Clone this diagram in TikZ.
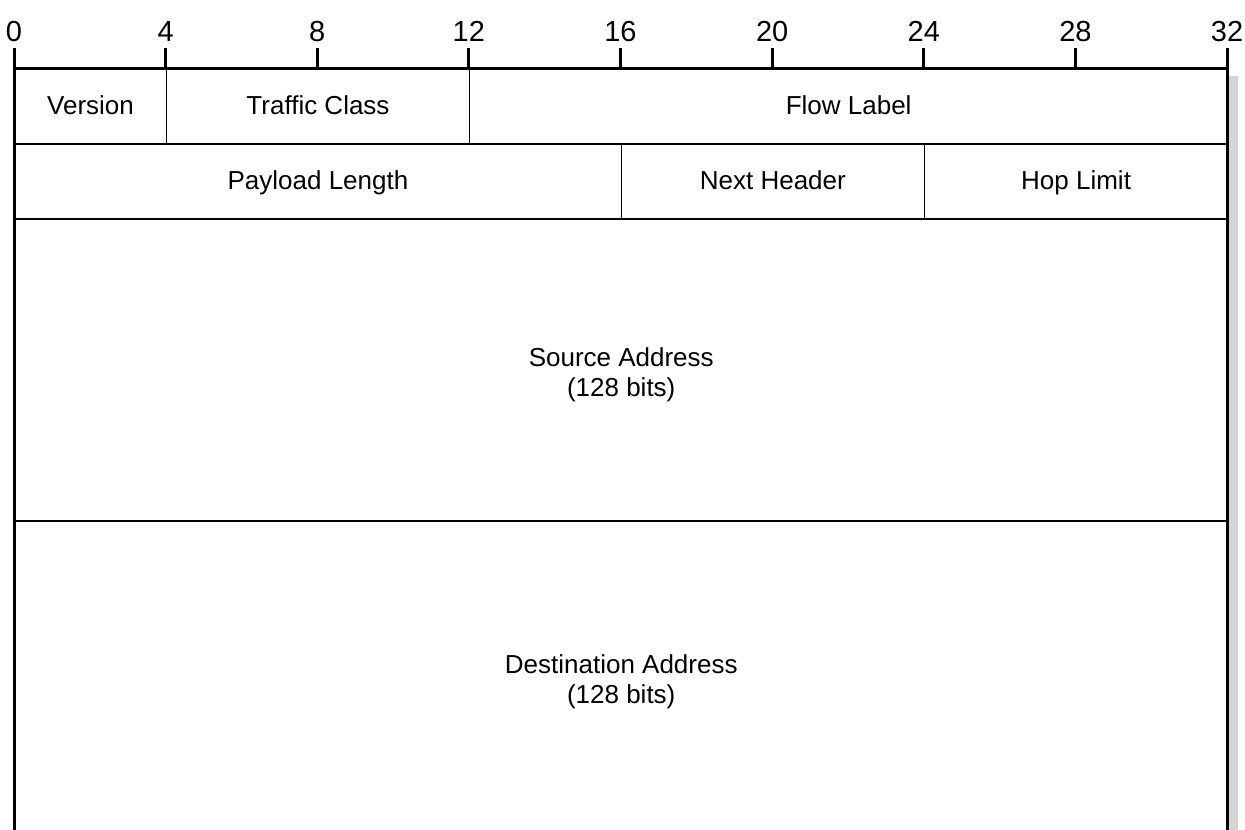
\documentclass[tikz,border=0pt]{standalone}
\usepackage{fontspec}
\setmainfont{Liberation Sans}
\definecolor{shadowgray}{HTML}{D4D4D4}
\begin{document}
\begin{tikzpicture}[
    x=1pt, y=-1pt,
    line join=miter,
    border/.style={line width=3pt},
    field/.style 2 args={draw, line width=1.5pt, anchor=north west, inner sep=0pt,
        align=center, font=\fontsize{26}{30}\selectfont,
        minimum width=#1*37.906pt, minimum height=#2pt},
    oneline/.style={text height=21pt, text depth=5pt},
    bitnum/.style={anchor=south, inner sep=5pt, font=\fontsize{29}{30}\selectfont}
]
\useasboundingbox (0,0) rectangle (1245,830);
\fill[shadowgray] (1229,76) rectangle (1238,830);
% first two words
\node[field={4}{75}, oneline] (version) at (14,68) {Version};
\node[field={8}{75}, oneline] (class) at (14+4*37.906,68) {Traffic Class};
\node[field={20}{75}, oneline] (flow) at (14+12*37.906,68) {Flow Label};
\node[field={16}{75}, oneline] (length) at (14,143) {Payload Length};
\node[field={8}{75}, oneline] (next) at (14+16*37.906,143) {Next Header};
\node[field={8}{75}, oneline] (hop) at (14+24*37.906,143) {Hop Limit};
% addresses
\node[field={32}{302}] (source) at (14,218) {\rule{0pt}{28pt}Source Address\\(128 bits)};
\node[field={32}{314}, draw=none] (dest) at (14,520) {\rule{0pt}{26pt}Destination Address\\(128 bits)};
% frame and bit scale
\draw[border] (14,830) -- (14,68) -- (1227,68) -- (1227,830);
\foreach \b in {0,4,...,32}
    \draw[border] (14+\b*37.906,68) -- (14+\b*37.906,48) node[bitnum] (bit\b) {\b};
\end{tikzpicture}
\end{document}
